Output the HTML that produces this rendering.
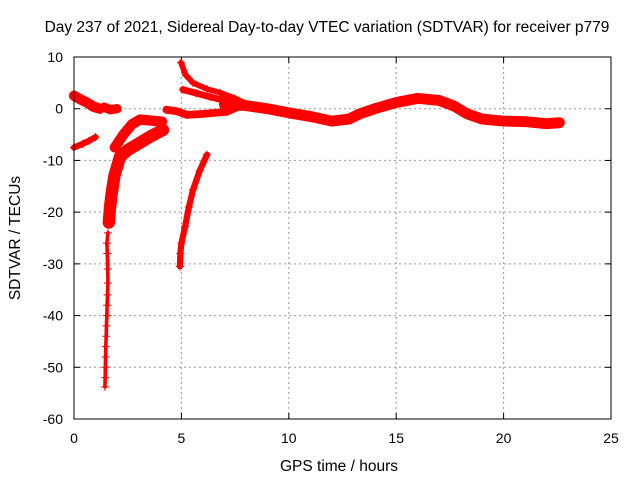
<!DOCTYPE html>
<html><head><meta charset="utf-8"><style>
body{margin:0;background:#fff}
svg{display:block;font-family:"Liberation Sans",sans-serif}
</style></head><body>
<svg id="c" width="640" height="480">
<text x="327" y="32" text-anchor="middle" font-size="15.5">Day 237 of 2021, Sidereal Day-to-day VTEC variation (SDTVAR) for receiver p779</text>
<text x="339" y="471" text-anchor="middle" font-size="15.5">GPS time / hours</text>
<text transform="translate(20,238) rotate(-90)" text-anchor="middle" font-size="15.5">SDTVAR / TECUs</text>
<g id="grid"></g><g id="marks"></g>
<rect x="74" y="57" width="537" height="362" fill="none" stroke="#000"/>
</svg>
<script>
const xTicks=[0,5,10,15,20,25];
const yTicks=[10,0,-10,-20,-30,-40,-50,-60];
// tracks: [hour, value] samples, plus band width (value units)
const trackTopLeft=[[0,2.5],[0.3,1.8],[0.6,1.2],[0.9,0.4],[1.2,0]];
const trackBlob=[[1.4,0.3],[1.7,-0.2],[2.0,0]];
const trackLeftLow=[[0,-7.5],[0.4,-6.8],[0.7,-6.2],[1.0,-5.5]];
const trackDeepTail=[[1.44,-53.8],[1.45,-52],[1.46,-50],[1.47,-48],[1.48,-46],[1.5,-44],[1.51,-42],[1.53,-40],[1.54,-38],[1.56,-36],[1.58,-33.7],[1.57,-31],[1.55,-28],[1.53,-26],[1.58,-24]];
const trackDeep=[[1.62,-22],[1.68,-19],[1.75,-16.5],[1.88,-13],[2.14,-9.3],[2.5,-8],[2.9,-7],[3.5,-5.5],[4.14,-4.1]];
const trackUpper=[[1.9,-7.5],[2.3,-5],[2.7,-3],[3.07,-2.1],[3.6,-2.3],[4.1,-2.5]];
const trackFiveLow=[[4.93,-30.5],[4.95,-28],[5.0,-26],[5.17,-22.8],[5.35,-19],[5.54,-15.7],[5.85,-12],[6.19,-8.9]];
const trackFiveTop=[[4.98,8.9],[5.2,6.5],[5.54,5],[6.2,3.8],[6.8,3.1],[7.5,2],[8,1]];
const trackFiveMid=[[5.07,3.7],[5.7,3],[6.33,2.3],[7.4,1.2],[8,0.8]];
const trackFiveZero=[[4.3,-0.2],[4.8,-0.5],[5.26,-1.2],[6,-1],[7.1,-0.6],[7.6,0.3]];
const trackMain=[[7,0.8],[8,0.6],[9,0],[10,-0.8],[11,-1.5],[12,-2.4],[12.8,-2],[13.3,-1],[14,0],[15,1.2],[16,2],[17,1.6],[17.7,0.5],[18.3,-1],[19,-2],[20,-2.4],[21,-2.5],[22,-2.9],[22.6,-2.7]];
const tracks=[[trackTopLeft,2],[trackBlob,1.8],[trackLeftLow,1.2],[trackDeepTail,0.7],[trackDeep,2.4],[trackUpper,2],[trackFiveLow,1.2],[trackFiveTop,1.1],[trackFiveMid,1.3],[trackFiveZero,1.5],[trackMain,2.1]];
const X0=74,X1=611,Y0=419,Y1=57;
const xs=h=>X0+(h-0)/25*(X1-X0);
const ys=v=>Y0-(v+60)/70*(Y0-Y1);
const NS="http://www.w3.org/2000/svg";
const g=document.getElementById('grid'),m=document.getElementById('marks'),svg=document.getElementById('c');
function mk(t,a,p){const e=document.createElementNS(NS,t);for(const k in a)e.setAttribute(k,a[k]);p.appendChild(e);return e;}
xTicks.forEach(t=>{const x=xs(t);
 if(t>0&&t<25){const l=mk('line',{x1:x,x2:x,y1:Y1,y2:Y0,stroke:'#999','stroke-dasharray':'2,3'},g);
 
 }
 mk('line',{x1:x,x2:x,y1:Y0,y2:Y0-6,stroke:'#000'},g);mk('line',{x1:x,x2:x,y1:Y1,y2:Y1+6,stroke:'#000'},g);
 const tx=mk('text',{x:x,y:443,'text-anchor':'middle','font-size':14},svg);tx.textContent=t;
 
 });
yTicks.forEach(t=>{const y=ys(t);
 if(t<10&&t>-60){const l=mk('line',{x1:X0,x2:X1,y1:y,y2:y,stroke:'#999','stroke-dasharray':'2,3'},g);
 
 }
 mk('line',{x1:X0,x2:X0+6,y1:y,y2:y,stroke:'#000'},g);mk('line',{x1:X1,x2:X1-6,y1:y,y2:y,stroke:'#000'},g);
 const tx=mk('text',{x:63,y:y+5,'text-anchor':'end','font-size':14},svg);tx.textContent=t;
 
 });
tracks.forEach(([pts,w])=>{
 const band=mk('polyline',{points:pts.map(p=>xs(p[0])+','+ys(p[1])).join(' '),fill:'none',stroke:'#f00','stroke-width':w*5.17,'stroke-linejoin':'round','stroke-linecap':'round'},m);
 
 
 pts.forEach(p=>{const x=xs(p[0]),y=ys(p[1]);
  const c=mk('path',{d:`M${x-4},${y}H${x+4}M${x},${y-4}V${y+4}`,stroke:'#f00','stroke-width':1},m);
  
  });
});
</script>
</body></html>
